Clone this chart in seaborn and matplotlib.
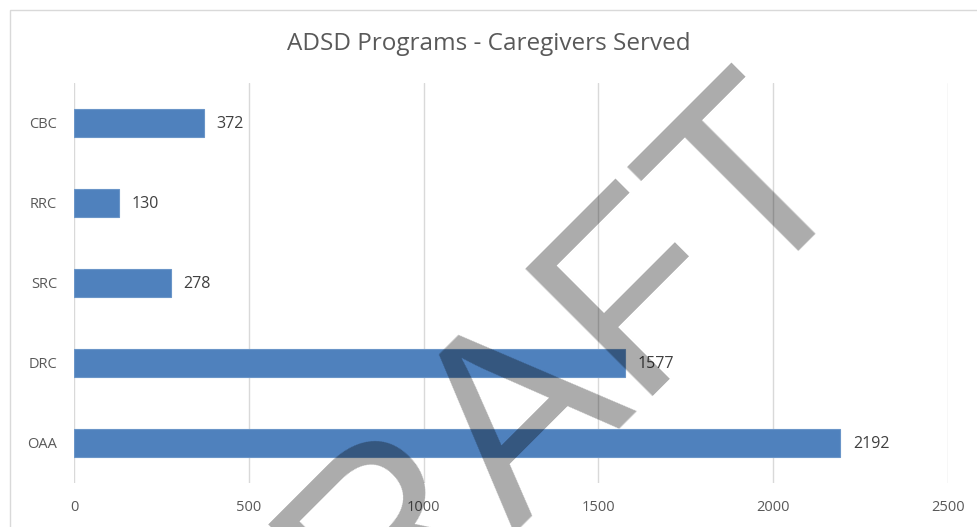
import matplotlib
matplotlib.use("Agg")
import matplotlib.pyplot as plt
import seaborn as sns
import pandas as pd
from matplotlib.patches import Rectangle

categories = ["CBC", "RRC", "SRC", "DRC", "OAA"]
values = [372, 130, 278, 1577, 2192]
xticks = [0, 500, 1000, 1500, 2000, 2500]
title = "ADSD Programs - Caregivers Served"

df = pd.DataFrame({"program": categories, "served": values})

sns.set_theme(style="white")
plt.rcParams["font.family"] = ["Open Sans", "DejaVu Sans"]

W, H = 977, 527
fig = plt.figure(figsize=(W / 100, H / 100), dpi=100)
ax = fig.add_axes([74 / W, 1 - 483 / H, (948 - 74) / W, (483 - 83) / H])

sns.barplot(data=df, y="program", x="served", order=categories, orient="h",
            color="#4f81bd", saturation=1, width=0.35, ax=ax,
            edgecolor="#6a95c8", linewidth=0.8, zorder=3)

ax.set_xlim(0, 2500)
ax.set_ylim(4.5, -0.5)
ax.set_xticks(xticks)
ax.set_xticklabels([str(t) for t in xticks])
ax.grid(axis="x", color="#d9d9d9", linewidth=1, zorder=0)
ax.grid(axis="y", visible=False)
for s in ax.spines.values():
    s.set_visible(False)
ax.tick_params(axis="x", length=0, pad=12, labelsize=10.5, labelcolor="#595959")
ax.tick_params(axis="y", length=0, pad=12, labelsize=10.5, labelcolor="#595959")
ax.set_xlabel("")
ax.set_ylabel("")

for i, v in enumerate(values):
    ax.annotate(str(v), xy=(v, i), xytext=(9, -1), textcoords="offset points",
                va="center", ha="left", fontsize=11.5, color="#404040", zorder=4)

fig.text(0.5, 1 - 44 / H, title, ha="center", va="center",
         fontsize=17.5, color="#595959")

# chart border
fig.patches.append(Rectangle((10 / W, -0.1), 1.2, 1 - 10 / H + 0.1,
                             transform=fig.transFigure, fill=False,
                             edgecolor="#d9d9d9", linewidth=1, zorder=0))

# DRAFT watermark
fig.text(550 / W, 1 - 477 / H, "DRAFT", rotation=45, rotation_mode="anchor",
         ha="center", va="baseline", fontsize=188, color="black", alpha=0.33,
         family=["Liberation Sans", "DejaVu Sans"], zorder=10)

fig.savefig("out.png", dpi=100)
